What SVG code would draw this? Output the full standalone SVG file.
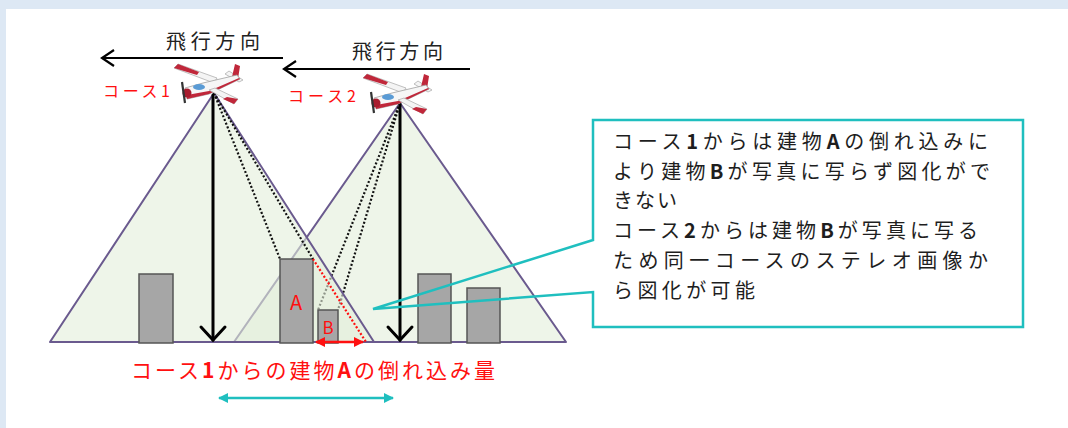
<svg xmlns="http://www.w3.org/2000/svg" width="1068" height="428" viewBox="0 0 1068 428">
<style>
.tri{stroke:#6a5a8e;stroke-width:2;stroke-linejoin:round}
.bld{fill:#a6a6a6;stroke:#555;stroke-width:1.5}
.dot{stroke:#111;stroke-width:2.2;stroke-dasharray:2 2;fill:none}
.vert{stroke:#000;stroke-width:3;fill:none;stroke-linecap:round}
.dir{stroke:#000;stroke-width:2.2;fill:none}
.jp{font-family:"Noto Sans CJK JP","Noto Sans",sans-serif}
.red{fill:#ff1010}
.body{fill:#1e1e1e;font-size:20px}
</style>
<defs>
<marker id="redHead" viewBox="0 0 10 10" refX="9" refY="5" markerWidth="4" markerHeight="4" orient="auto-start-reverse"><path d="M0,0 L10,5 L0,10 z" fill="#ff1010"/></marker>
<marker id="tealHead" viewBox="0 0 10 10" refX="9" refY="5" markerWidth="4" markerHeight="4" orient="auto-start-reverse"><path d="M0,0 L10,5 L0,10 z" fill="#1fbfbf"/></marker>
<g id="plane">
<polygon points="-33,-17 -29,-21 10,-7 7,-2" fill="#f4f4f4" stroke="#b0b0b0" stroke-width="0.8"/>
<polygon points="-33,-17 -29,-21 -8,-13 -10,-10" fill="#c0273a"/>
<polygon points="18,-11 22,-14 36,-5 32,-3" fill="#f4f4f4" stroke="#b0b0b0" stroke-width="0.8"/>
<polygon points="25,-8 28,-21 33,-19 31,-6" fill="#c0273a"/>
<polygon points="-22,3 -4,-2 30,-10 33,-6 2,9 -20,14" fill="#f6f6f6" stroke="#a0a0a0" stroke-width="0.8"/>
<polygon points="-20,10 2,6 32,-7 33,-6 2,9 -20,14" fill="#c0273a"/>
<ellipse cx="-8" cy="2" rx="6" ry="3" fill="#5a9bd5"/>
<circle cx="-20" cy="8" r="4.5" fill="#a81c2e"/>
<line x1="-25" y1="-3" x2="-22" y2="18" stroke="#333" stroke-width="2.2"/>
<polygon points="2,5 8,3 31,14 27,19" fill="#f4f4f4" stroke="#b0b0b0" stroke-width="0.8"/>
<polygon points="20,12 31,14 27,19 16,14" fill="#c0273a"/>
</g>
</defs>
<rect x="0" y="0" width="1068" height="428" fill="#dde8f4"/>
<rect x="6" y="9" width="1062" height="419" fill="#ffffff"/>

<g id="course2-cone">
<polygon class="tri" points="400,103 234,342 566,342" fill="#eef5e9"/>
</g>
<g id="course2-rays">
<line class="dot" x1="400" y1="103" x2="318" y2="310"/>
<line class="dot" x1="400" y1="103" x2="338" y2="310"/>
</g>
<g id="course1-cone">
<polygon class="tri" points="214,93 50,342 374,342" fill="#e3eeda" fill-opacity="0.6"/>
</g>
<line x1="50" y1="342" x2="566" y2="342" stroke="#6a5a8e" stroke-width="2"/>

<g id="building1"><rect class="bld" x="139" y="274" width="34" height="69"/></g>
<g id="buildingA"><rect class="bld" x="280" y="259" width="33" height="84"/>
<text class="jp red" x="296" y="310" font-size="20" text-anchor="middle">A</text></g>
<g id="buildingB"><rect class="bld" x="318" y="310" width="20" height="33"/>
<text class="jp red" x="328" y="334" font-size="17" text-anchor="middle">B</text></g>
<g id="building3"><rect class="bld" x="418" y="274" width="33" height="69"/></g>
<g id="building4"><rect class="bld" x="467" y="288" width="33" height="55"/></g>

<g id="connectors">
<line class="dot" x1="214" y1="93" x2="280" y2="259"/>
<line class="dot" x1="214" y1="93" x2="313" y2="259"/>
<line x1="313" y1="259" x2="366" y2="342" stroke="#ff1010" stroke-width="2.2" stroke-dasharray="2 2"/>
<line x1="213" y1="95" x2="213" y2="340" class="vert"/>
<polyline points="201,327 213,340 225,327" class="vert"/>
<line x1="400" y1="104" x2="400" y2="340" class="vert"/>
<polyline points="388,327 400,340 412,327" class="vert"/>
<line x1="316" y1="342" x2="363" y2="342" stroke="#ff1010" stroke-width="2.5" marker-start="url(#redHead)" marker-end="url(#redHead)"/>
<line x1="219" y1="398" x2="393" y2="398" stroke="#1fbfbf" stroke-width="2.5" marker-start="url(#tealHead)" marker-end="url(#tealHead)"/>
<line x1="102" y1="58" x2="283" y2="58" class="dir"/>
<polyline points="114,50 102,58 114,66" class="dir"/>
<line x1="284" y1="69" x2="470" y2="69" class="dir"/>
<polyline points="296,61 284,69 296,77" class="dir"/>
</g>

<g id="plane1"><use href="#plane" x="207" y="85"/></g>
<g id="plane2"><use href="#plane" x="396" y="95"/></g>

<g id="labels">
<text class="jp" x="166" y="49" font-size="20" fill="#222" textLength="94" lengthAdjust="spacing">飛行方向</text>
<text class="jp" x="352" y="59" font-size="20" fill="#222" textLength="91" lengthAdjust="spacing">飛行方向</text>
<text class="jp red" x="103" y="97" font-size="16" textLength="67" lengthAdjust="spacing">コース1</text>
<text class="jp red" x="288" y="102" font-size="16" textLength="68" lengthAdjust="spacing">コース2</text>
<text class="jp red" x="131" y="378" font-size="21" textLength="364" lengthAdjust="spacing">コース<tspan font-weight="bold">1</tspan>からの建物<tspan font-weight="bold">A</tspan>の倒れ込み量</text>
</g>

<g id="callout">
<polygon points="593,240 593,120 1023,120 1023,327 593,327 593,292 373,309" fill="none" stroke="#1fbfbf" stroke-width="2.5" stroke-linejoin="miter"/>
<text class="jp body" x="613" y="149" textLength="375" lengthAdjust="spacing">コース<tspan font-weight="bold">1</tspan>からは建物<tspan font-weight="bold">A</tspan>の倒れ込みに</text>
<text class="jp body" x="613" y="179" textLength="377" lengthAdjust="spacing">より建物<tspan font-weight="bold">B</tspan>が写真に写らず図化がで</text>
<text class="jp body" x="613" y="208" textLength="64" lengthAdjust="spacing">きない</text>
<text class="jp body" x="613" y="238" textLength="365" lengthAdjust="spacing">コース<tspan font-weight="bold">2</tspan>からは建物<tspan font-weight="bold">B</tspan>が写真に写る</text>
<text class="jp body" x="613" y="268" textLength="375" lengthAdjust="spacing">ため同一コースのステレオ画像か</text>
<text class="jp body" x="613" y="298" textLength="142" lengthAdjust="spacing">ら図化が可能</text>
</g>
</svg>
